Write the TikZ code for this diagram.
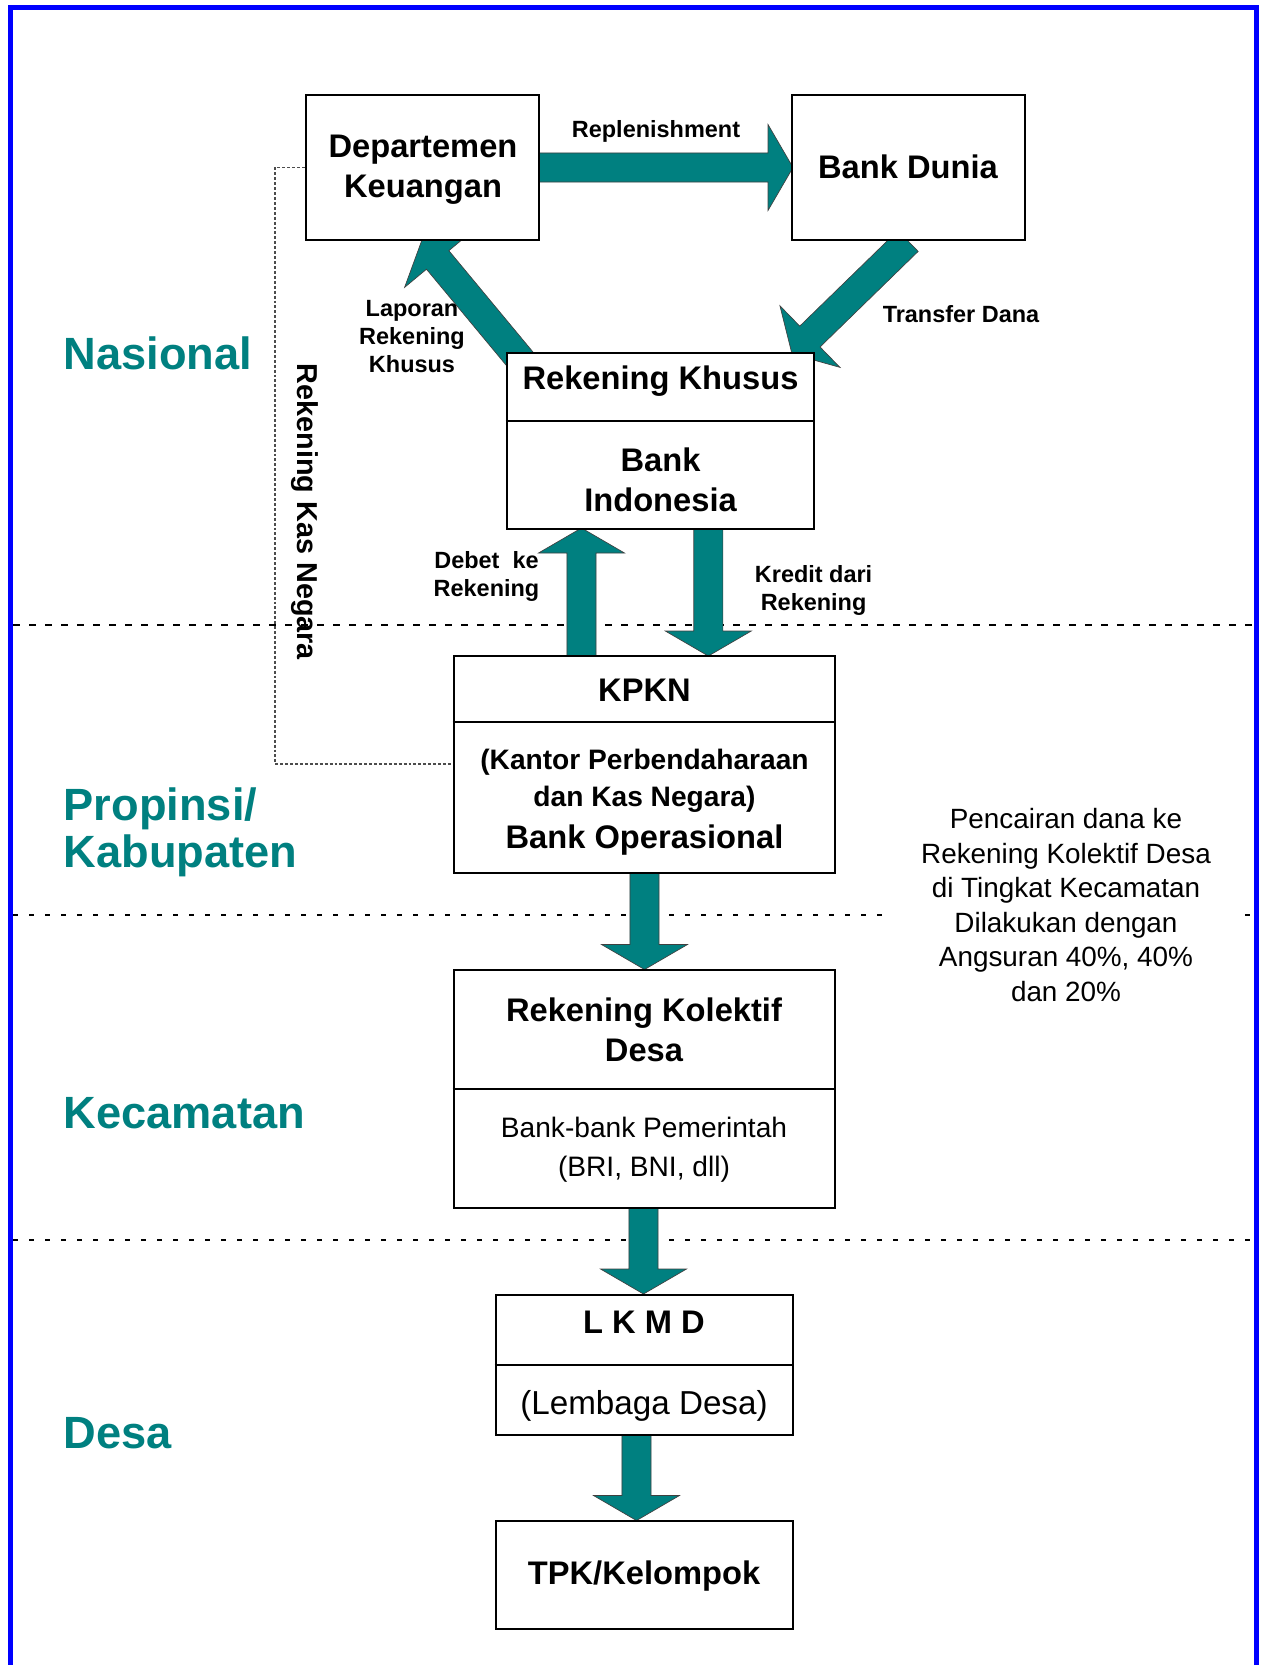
\documentclass[tikz,border=0pt]{standalone}
\usepackage{fontspec}
\setmainfont{Liberation Sans}
\usetikzlibrary{calc,fit}
\definecolor{tealc}{RGB}{0,128,128}
\definecolor{frameblue}{RGB}{0,0,255}
\newcommand{\blockarrow}[2]{%
  \coordinate (tmpC) at ($(#2)!18.75pt!(#1)$);
  \filldraw[barrow] ($(#1)!10.9pt!90:(#2)$) -- ($(tmpC)!10.9pt!-90:(#1)$) -- ($(tmpC)!32.25pt!-90:(#1)$) -- (#2) -- ($(tmpC)!32.25pt!90:(#1)$) -- ($(tmpC)!10.9pt!90:(#1)$) -- ($(#1)!10.9pt!-90:(#2)$) -- cycle;}
\begin{document}
\begin{tikzpicture}[x=0.75pt,y=-0.75pt,
  box/.style={draw=black, line width=1.9pt, fill=white, inner sep=0pt, rectangle},
  divline/.style={line width=1.1pt},
  barrow/.style={fill=tealc, draw=black!75, line width=0.5pt},
  btxt/.style={font=\bfseries\fontsize{24.5}{30}\selectfont, align=center, inner sep=0pt},
  stxt/.style={font=\bfseries\fontsize{17.6}{21}\selectfont, align=center, inner sep=0pt},
  ktxt/.style={font=\bfseries\fontsize{21.1}{27.8}\selectfont, align=center, inner sep=0pt},
  rtxt/.style={font=\fontsize{21.1}{29.3}\selectfont, align=center, inner sep=0pt},
  lvl/.style={font=\bfseries\fontsize{33.9}{35}\selectfont, text=tealc, align=left, anchor=west, inner sep=0pt},
  lvline/.style={line width=2.2pt, dash pattern=on 3.6pt off 8.4pt},
  lvlineA/.style={line width=2.2pt, dash pattern=on 5.6pt off 6.4pt},
  kasline/.style={line width=0.8pt, black!70, dash pattern=on 2.2pt off 1.5pt},
  frameline/.style={draw=frameblue, line width=3.75pt}]
\useasboundingbox (0,0) rectangle (1263,1665);
\fill[white] (0,0) rectangle (1263,1665);
% frame
\draw[frameline] (10.3,1680) -- (10.3,8) -- (1256.7,8) -- (1256.7,1680);
% level lines
\draw[lvlineA] (13,625) -- (1254,625);
\draw[lvline] (13,915) -- (1254,915);
\draw[lvline] (13,1240) -- (1254,1240);
% dashed connector
\coordinate (kc1) at (275,167.5);
\coordinate (kc2) at (275,764);
\node[box, draw=none, fill=none, fit={(306,95) (539,240)}] (dk0) {};
\node[box, draw=none, fill=none, fit={(454,656) (835,873)}] (kp0) {};
\draw[kasline] (dk0.west) -- (kc1) -- (kc2) -- (kc2 -| kp0.west);
% arrows
\coordinate (lapS) at (534,376);
\coordinate (lapE) at (421.7,240.7);
\coordinate (trS) at (908,241);
\coordinate (trE) at (792,354);
\coordinate (reS) at (539,167.5);
\coordinate (reE) at (793,167.5);
\coordinate (dbS) at (581.5,656);
\coordinate (dbE) at (581.5,528);
\coordinate (krS) at (708.3,529);
\coordinate (krE) at (708.3,656);
\coordinate (k1S) at (644.5,873);
\coordinate (k1E) at (644.5,969.5);
\coordinate (k2S) at (643.5,1208);
\coordinate (k2E) at (643.5,1294);
\coordinate (k3S) at (636.5,1435);
\coordinate (k3E) at (636.5,1520.5);
\blockarrow{reS}{reE}
\blockarrow{lapS}{lapE}
\blockarrow{trS}{trE}
\blockarrow{dbS}{dbE}
\blockarrow{krS}{krE}
\blockarrow{k1S}{k1E}
\blockarrow{k2S}{k2E}
\blockarrow{k3S}{k3E}
% boxes
\node[box, fit={(306,95) (539,240)}] (dk) {};
\node[box, fit={(792,95) (1025,240)}] (bd) {};
\node[box, fit={(507,353) (814,529)}] (rk) {};
\node[box, fit={(454,656) (835,873)}] (kpkn) {};
\node[box, fit={(454,970) (835,1208)}] (rkd) {};
\node[box, fit={(496,1295) (793,1435)}] (lkmd) {};
\node[box, fit={(496,1521) (793,1629)}] (tpk) {};
\draw[divline] (rk.west |- 0,421) -- (rk.east |- 0,421);
\draw[divline] (kpkn.west |- 0,722) -- (kpkn.east |- 0,722);
\draw[divline] (rkd.west |- 0,1089) -- (rkd.east |- 0,1089);
\draw[divline] (lkmd.west |- 0,1365) -- (lkmd.east |- 0,1365);
% box texts
\node[btxt] (dkt) at (423,170) {Departemen\\Keuangan};
\node[btxt] (bdt) at (908,167) {Bank Dunia};
\node[btxt] (rkt) at (660.5,381) {Rekening Khusus};
\node[btxt] (bit) at (660.5,480) {Bank\\Indonesia};
\node[btxt] (kpt) at (644.5,690) {KPKN};
\node[ktxt] (kat) at (644.5,781) {(Kantor Perbendaharaan\\dan Kas Negara)};
\node[btxt] (bot) at (644.5,840) {Bank Operasional};
\node[btxt] (rkdt) at (644,1030) {Rekening Kolektif\\Desa};
\node[rtxt] (bbt) at (644,1150) {Bank-bank Pemerintah\\(BRI, BNI, dll)};
\node[btxt] (lkt) at (644,1322) {L K M D};
\node[rtxt, font=\fontsize{24.9}{28}\selectfont] (ldt) at (644,1406) {(Lembaga Desa)};
\node[btxt] (tpt) at (644,1576) {TPK/Kelompok};
% arrow labels
\node[stxt] (rep) at (656,131.5) {Replenishment};
\node[stxt] (trd) at (961,314) {Transfer Dana};
\node[stxt] (lap) at (412,337) {Laporan\\Rekening\\Khusus};
\node[stxt] (deb) at (486.5,576) {Debet\ \ ke\\Rekening};
\node[stxt] (kre) at (813.6,590) {Kredit dari\\Rekening};
\node[font=\bfseries\fontsize{21.6}{26}\selectfont, inner sep=0pt, rotate=-90] (rkn) at (305,512) {Rekening Kas Negara};
% level labels
\node[lvl] (nas) at (63.5,353) {Nasional};
\node[lvl] (pro) at (63.5,832) {Propinsi/\\Kabupaten};
\node[lvl] (kec) at (63.5,1113) {Kecamatan};
\node[lvl] (des) at (63.5,1433) {Desa};
% note
\node[fill=white, inner sep=0pt, minimum width=259.5pt, font=\fontsize{20.9}{25.9}\selectfont, align=center] (note) at (1066,905) {Pencairan dana ke\\Rekening Kolektif Desa\\di Tingkat Kecamatan\\Dilakukan dengan\\Angsuran 40\%, 40\%\\dan 20\%};
\end{tikzpicture}
\end{document}
